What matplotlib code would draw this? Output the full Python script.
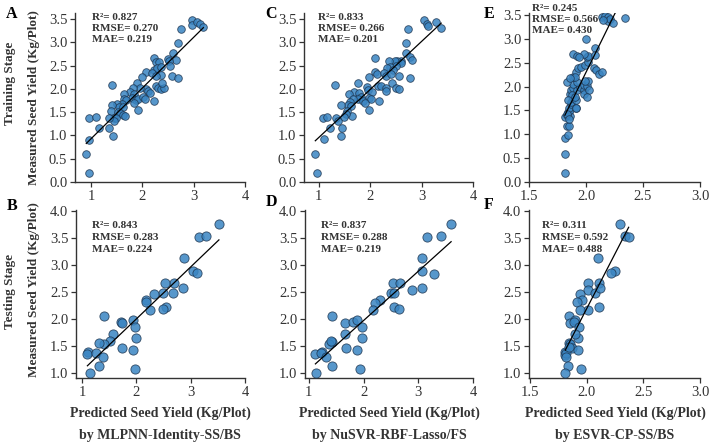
import numpy as np
import matplotlib
matplotlib.use("Agg")
import matplotlib.pyplot as plt

plt.rcParams["font.family"] = ["Liberation Serif", "DejaVu Serif"]

# training stage, panel A (MLPNN-Identity-SS/BS)
a_pred = [2.97, 2.96, 3.06, 3.13, 3.19, 2.76, 2.69, 2.59, 2.66, 2.50, 2.52, 2.53, 2.58, 2.69,
          2.23, 2.26, 2.32, 2.22, 2.29, 2.37, 2.08, 2.19, 2.36, 2.27, 1.99, 1.90, 2.27, 2.30,
          2.37, 2.43, 2.39, 2.08, 1.95, 2.12, 2.16, 1.81, 1.76, 1.84, 1.80, 1.87, 1.91, 2.02,
          2.05, 2.22, 1.64, 1.64, 1.68, 1.60, 1.51, 1.54, 1.62, 1.84, 1.91, 1.41, 1.41, 1.39,
          1.53, 1.57, 1.63, 1.66, 1.44, 1.48, 1.44, 1.35, 0.97, 1.10, 1.15, 1.35, 1.43, 0.97,
          0.91, 0.97]
a_meas = [3.47, 3.38, 3.43, 3.39, 3.32, 3.29, 2.98, 2.78, 2.63, 2.64, 2.59, 2.50, 2.28, 2.24,
          2.66, 2.58, 2.58, 2.41, 2.45, 2.48, 2.36, 2.35, 2.29, 2.27, 2.25, 2.12, 2.06, 2.01,
          1.99, 2.01, 2.12, 2.00, 2.01, 1.96, 1.91, 2.01, 1.94, 1.88, 1.80, 1.76, 1.78, 1.82,
          1.79, 1.73, 1.90, 1.78, 1.76, 1.68, 1.68, 1.62, 1.62, 1.70, 1.55, 2.09, 1.65, 1.53,
          1.50, 1.49, 1.44, 1.42, 1.38, 1.37, 1.31, 1.37, 1.37, 1.40, 1.17, 1.15, 0.99, 0.91,
          0.60, 0.19]

# training stage, panel C (NuSVR-RBF-Lasso/FS)
c_pred = [3.05, 3.11, 3.12, 3.27, 3.38, 2.74, 2.69, 2.70, 2.78, 2.81, 2.60, 2.53, 2.48, 2.37,
          2.10, 2.60, 2.51, 2.38, 2.32, 2.44, 2.10, 2.13, 2.26, 2.30, 2.40, 2.56, 2.77, 1.97,
          2.43, 1.76, 1.31, 1.94, 1.95, 2.15, 2.21, 2.30, 2.30, 2.51, 2.55, 2.04, 1.69, 1.58,
          1.79, 1.81, 1.76, 1.67, 1.97, 2.01, 2.17, 1.85, 1.89, 1.60, 1.56, 1.44, 1.62, 1.97,
          1.65, 1.54, 1.53, 1.49, 1.33, 1.38, 1.08, 1.15, 1.21, 1.45, 1.43, 1.09, 0.93, 0.97]
c_meas = [3.47, 3.40, 3.36, 3.43, 3.31, 3.29, 2.99, 2.77, 2.68, 2.63, 2.60, 2.60, 2.60, 2.60,
          2.66, 2.55, 2.50, 2.48, 2.45, 2.41, 2.37, 2.32, 2.34, 2.28, 2.32, 2.28, 2.24, 2.25,
          2.12, 2.12, 2.08, 2.04, 1.98, 2.06, 2.06, 2.01, 1.96, 2.01, 1.99, 1.94, 1.94, 1.89,
          1.91, 1.83, 1.78, 1.78, 1.81, 1.78, 1.73, 1.73, 1.69, 1.71, 1.66, 1.66, 1.63, 1.55,
          1.42, 1.53, 1.47, 1.39, 1.37, 1.32, 1.37, 1.39, 1.17, 1.15, 0.99, 0.93, 0.60, 0.19]

# training stage, panel E (ESVR-CP-SS/BS)
e_pred = [1.815, 1.815, 1.82, 1.84, 1.835, 1.85, 1.82, 1.835, 1.86, 1.84, 1.86, 1.85, 1.87,
          1.91, 1.87, 1.89, 1.91, 1.86, 1.87, 1.89, 1.92, 1.95, 1.98, 1.89, 1.92, 1.83, 1.98,
          2.01, 2.02, 1.99, 1.89, 1.91, 1.93, 1.96, 1.99, 2.02, 2.01, 2.02, 1.98, 1.89, 1.92,
          1.94, 2.00, 2.08, 2.08, 2.07, 2.09, 2.11, 2.14, 2.14, 2.17, 2.19, 2.19, 2.21, 2.24,
          2.15, 2.34, 1.90, 1.86, 1.88, 1.90, 1.91, 1.84, 1.83, 1.85, 1.98, 2.03, 2.01]
e_meas = [0.19, 0.59, 0.92, 0.99, 1.17, 1.17, 1.36, 1.40, 1.38, 1.47, 1.50, 1.56, 1.63,
          1.56, 1.68, 1.75, 1.71, 1.85, 1.92, 1.96, 1.92, 1.99, 1.92, 2.06, 2.10, 2.10, 2.03,
          2.01, 2.12, 2.12, 2.20, 2.31, 2.38, 2.41, 2.45, 2.52, 2.61, 2.64, 2.69, 2.69, 2.64,
          2.61, 2.99, 2.80, 2.66, 2.38, 2.34, 2.27, 2.31, 3.46, 3.48, 3.45, 3.38, 3.41, 3.34,
          3.39, 3.43, 2.20, 2.17, 1.82, 1.78, 1.55, 1.71, 1.43, 1.33, 1.85, 1.92, 1.78]

# testing stage, panel B
b_pred = [3.52, 3.15, 3.29, 2.88, 3.04, 3.12, 2.85, 2.67, 2.69, 2.52, 2.49, 2.32, 2.17, 2.17,
          2.54, 2.50, 2.26, 1.41, 1.71, 1.73, 1.93, 1.98, 2.00, 1.58, 1.51, 1.41, 1.31, 1.74,
          1.94, 1.12, 1.10, 1.26, 1.38, 1.31, 1.14, 1.97]
b_meas = [3.77, 3.52, 3.54, 3.14, 2.90, 2.85, 2.58, 2.49, 2.67, 2.67, 2.48, 2.47, 2.36, 2.31,
          2.23, 2.19, 2.16, 2.05, 1.94, 1.93, 1.98, 1.85, 1.65, 1.73, 1.59, 1.54, 1.56, 1.47,
          1.43, 1.40, 1.35, 1.37, 1.29, 1.14, 1.01, 1.07]

# testing stage, panel D
d_pred = [3.60, 3.16, 3.41, 3.07, 3.06, 3.28, 3.07, 2.89, 2.53, 2.66, 2.50, 2.55, 2.30, 2.21,
          2.18, 2.56, 2.64, 1.42, 1.66, 1.80, 1.88, 1.97, 1.97, 1.66, 1.42, 1.36, 1.41, 1.68,
          1.88, 1.24, 1.12, 1.22, 1.31, 1.42, 1.13, 1.94]
d_meas = [3.77, 3.52, 3.54, 3.14, 2.90, 2.84, 2.58, 2.54, 2.67, 2.67, 2.49, 2.49, 2.36, 2.30,
          2.16, 2.23, 2.19, 2.05, 1.93, 1.94, 1.98, 1.85, 1.65, 1.73, 1.57, 1.54, 1.59, 1.47,
          1.43, 1.40, 1.35, 1.37, 1.30, 1.14, 1.01, 1.07]

# testing stage, panel F
f_pred = [2.29, 2.34, 2.37, 2.10, 2.25, 2.21, 2.01, 2.11, 2.01, 2.07, 2.12, 1.94, 1.96, 1.91,
          2.01, 1.94, 2.11, 1.84, 1.85, 1.90, 1.89, 1.93, 1.92, 1.90, 1.84, 1.85, 1.87, 1.92,
          1.81, 1.81, 1.82, 1.82, 1.83, 1.81, 1.95, 1.84]
f_meas = [3.77, 3.53, 3.52, 3.14, 2.90, 2.85, 2.67, 2.67, 2.54, 2.49, 2.57, 2.47, 2.35, 2.31,
          2.17, 2.16, 2.23, 2.05, 1.93, 1.99, 1.94, 1.85, 1.65, 1.73, 1.56, 1.54, 1.47, 1.43,
          1.40, 1.34, 1.37, 1.30, 1.14, 1.01, 1.07, 1.49]

stats = {
    "A": ("0.827", "0.270", "0.219"),
    "B": ("0.843", "0.283", "0.224"),
    "C": ("0.833", "0.266", "0.201"),
    "D": ("0.837", "0.288", "0.219"),
    "E": ("0.245", "0.566", "0.430"),
    "F": ("0.311", "0.592", "0.488"),
}
models = ["by MLPNN-Identity-SS/BS", "by NuSVR-RBF-Lasso/FS", "by ESVR-CP-SS/BS"]

W, H = 709, 445
fig = plt.figure(figsize=(W / 100, H / 100), dpi=100)

def px_axes(x0, y0, x1, y1):
    # pixel box (left, top, right, bottom) -> axes
    return fig.add_axes([x0 / W, 1 - y1 / H, (x1 - x0) / W, (y1 - y0) / H])

# name: (pred, meas, box, xlim, ylim, xticks, yticks, text pos, text gap, marker size)
panels = {
    "A": (a_pred, a_meas, (75, 13, 245, 182), (0.69, 4.0), (0, 3.63), [1, 2, 3, 4],
          np.arange(0, 3.51, 0.5), (0.10, 0.98), 0.065, 30),
    "C": (c_pred, c_meas, (304, 13, 473, 182), (0.71, 4.0), (0, 3.63), [1, 2, 3, 4],
          np.arange(0, 3.51, 0.5), (0.085, 0.98), 0.065, 30),
    "E": (e_pred, e_meas, (529, 13, 700, 182), (1.5, 3.0), (0, 3.54), [1.5, 2.0, 2.5, 3.0],
          np.arange(0, 3.51, 0.5), (0.02, 1.035), 0.065, 30),
    "B": (b_pred, b_meas, (76, 210, 245, 378), (0.89, 4.0), (0.91, 4.02), [1, 2, 3, 4],
          np.arange(1.0, 4.01, 0.5), (0.095, 0.915), 0.072, 44),
    "D": (d_pred, d_meas, (305, 210, 473, 378), (0.93, 4.0), (0.91, 4.02), [1, 2, 3, 4],
          np.arange(1.0, 4.01, 0.5), (0.095, 0.915), 0.072, 44),
    "F": (f_pred, f_meas, (529, 210, 700, 378), (1.49, 3.0), (0.91, 4.02), [1.5, 2.0, 2.5, 3.0],
          np.arange(1.0, 4.01, 0.5), (0.075, 0.915), 0.072, 44),
}

for name, (xp, ym, box, xlim, ylim, xt, yt, tpos, gap, ms) in panels.items():
    ax = px_axes(*box)
    xp = np.array(xp)
    ym = np.array(ym)
    ax.scatter(xp, ym, s=ms, facecolor="#3a85c2", edgecolor="#1d3550", linewidth=0.6,
               alpha=0.85, zorder=3)
    k, b = np.polyfit(xp, ym, 1)
    xx = np.array([xp.min(), xp.max()])
    ax.plot(xx, k * xx + b, color="black", lw=0.9, zorder=4)
    ax.set_xlim(*xlim)
    ax.set_ylim(*ylim)
    ax.set_xticks(xt)
    ax.set_yticks(yt)
    ax.yaxis.set_major_formatter(matplotlib.ticker.FormatStrFormatter("%.1f"))
    if name in ("E", "F"):
        ax.xaxis.set_major_formatter(matplotlib.ticker.FormatStrFormatter("%.1f"))
    for s in ["top", "right"]:
        ax.spines[s].set_visible(False)
    for s in ["left", "bottom"]:
        ax.spines[s].set_color("#333333")
        ax.spines[s].set_linewidth(1.0)
    ax.tick_params(labelsize=10.5, length=3.5, width=0.9, color="#333333", labelcolor="#333333", pad=2)
    r2, rmse, mae = stats[name]
    tx, ty = tpos
    kw = dict(transform=ax.transAxes, fontsize=8, fontweight="bold", color="#333333",
              va="center_baseline", ha="left", zorder=5)
    ax.text(tx, ty, "R\u00b2= " + r2, **kw)
    ax.text(tx, ty - gap, "RMSE= " + rmse, **kw)
    ax.text(tx, ty - 2 * gap, "MAE= " + mae, **kw)

# panel letters
letters = {"A": (12, 14), "B": (12, 206), "C": (271, 14), "D": (271, 202), "E": (489, 14), "F": (489, 205)}
for t, (x, y) in letters.items():
    fig.text(x / W, 1 - y / H, t, fontsize=11.5, fontweight="bold", ha="center", va="center")

# row labels
lab = dict(fontsize=9.5, fontweight="bold", color="#333333", rotation=90, ha="center", va="center")
fig.text(34 / W, 1 - 98 / H, "Measured Seed Yield (Kg/Plot)", **lab)
fig.text(34 / W, 1 - 290 / H, "Measured Seed Yield (Kg/Plot)", **lab)
fig.text(10 / W, 1 - 83 / H, "Training Stage", **lab)
fig.text(10 / W, 1 - 291 / H, "Testing Stage", **lab)

# column labels
for cx, m in zip([160, 389, 615], models):
    fig.text(cx / W, 1 - 413 / H, "Predicted Seed Yield (Kg/Plot)", fontsize=10,
             fontweight="bold", color="#333333", ha="center", va="center")
    fig.text(cx / W, 1 - 436 / H, m, fontsize=10, fontweight="bold", color="#333333",
             ha="center", va="center")

fig.savefig("out.png", dpi=100)
